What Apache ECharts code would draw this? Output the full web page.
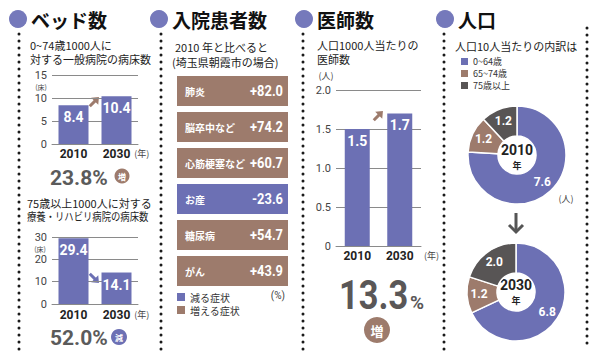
<!DOCTYPE html>
<html><head><meta charset="utf-8">
<script src="https://cdn.jsdelivr.net/npm/echarts@6/dist/echarts.min.js"></script>
<style>html,body{margin:0;padding:0;background:#fff}#c{width:600px;height:358px}</style>
</head><body><div id="c"></div>
<script>
// ---- data ----
const years = ['2010', '2030'];
const bedGeneral = [8.4, 10.4];          // 0~74歳1000人に対する一般病院の病床数
const bedGeneralTicks = [0, 15, 5];      // min, max, interval
const bedRehab = [29.4, 14.1];           // 75歳以上1000人に対する療養・リハビリ病院の病床数
const bedRehabTicks = [0, 30, 10];
const doctors = [1.5, 1.7];              // 人口1000人当たりの医師数
const doctorTicks = [0, 2, 0.5];
const diseases = ['肺炎', '脳卒中など', '心筋梗塞など', 'お産', '糖尿病', 'がん'];
const diseaseChange = [82.0, 74.2, 60.7, -23.6, 54.7, 43.9];
const ageGroups = ['0~64歳', '65~74歳', '75歳以上'];
const pop2010 = [7.6, 1.2, 1.2];
const pop2030 = [6.8, 1.2, 2.0];
const bedGeneralRate = '23.8%';
const bedRehabRate = '52.0%';
const doctorRate = '13.3';

// ---- style ----
const BLUE = '#6c70b4', BROWN = '#9d7b6c', DARK = '#585555', TBLUE = '#7579bb';
const JP = '"Noto Sans CJK JP", sans-serif';
const NUM = 'Roboto, "Noto Sans", sans-serif';
const AGE_COLORS = [BLUE, BROWN, DARK];

const chart = echarts.init(document.getElementById('c'), null, {renderer: 'svg'});

function catAxis(gi, margin, nameGap) {
  return {
    type: 'category', gridIndex: gi, data: years,
    axisLine: {show: true, lineStyle: {color: '#8a8a8a', width: 1}},
    axisTick: {show: false},
    axisLabel: {color: '#222', fontWeight: 'bold', fontSize: 12, fontFamily: NUM, margin: margin},
    name: '(年)', nameLocation: 'end', nameGap: nameGap,
    nameTextStyle: {color: '#444', fontSize: 9, fontFamily: JP, verticalAlign: 'top', padding: [margin + 1, 0, 0, 0]}
  };
}
function valAxis(gi, t, fmt) {
  return {
    type: 'value', gridIndex: gi, min: t[0], max: t[1], interval: t[2],
    axisLine: {show: false}, axisTick: {show: false},
    axisLabel: {color: '#444', fontSize: 11, fontFamily: NUM, margin: 5, formatter: fmt},
    splitLine: {lineStyle: {color: '#8a8a8a', width: 1}}
  };
}
function barSeries(gi, data, w) {
  return {
    type: 'bar', xAxisIndex: gi, yAxisIndex: gi, data: data, barWidth: w,
    itemStyle: {color: BLUE},
    label: {show: true, position: 'insideTop', distance: 5, color: '#fff', fontWeight: 'bold',
      fontSize: 14, fontFamily: NUM, formatter: p => p.value.toFixed(1)},
    silent: true
  };
}
function boxSeries(name, color, keep) {
  return {
    type: 'custom', name: name, xAxisIndex: 3, yAxisIndex: 3, itemStyle: {color: color},
    data: diseases.map((d, i) => [diseaseChange[i], i]).filter(p => keep(p[0])),
    encode: {x: 0, y: 1},
    renderItem: function (params, api) {
      const v = api.value(0), idx = api.value(1);
      const c = api.coord([0, idx]);
      const band = api.size([0, 1])[1];
      const h = band * 0.83;
      const cs = params.coordSys;
      return {type: 'group', children: [
        {type: 'rect', shape: {x: cs.x, y: c[1] - h / 2, width: cs.width, height: h}, style: {fill: api.visual('color')}},
        {type: 'text', x: cs.x + 8, y: c[1], style: {text: diseases[idx], fill: '#fff',
          font: 'bold 10px ' + JP, align: 'left', verticalAlign: 'middle'}},
        {type: 'text', x: cs.x + cs.width - 5, y: c[1], scaleX: 0.92, style: {text: (v > 0 ? '+' : '') + v.toFixed(1), fill: '#fff',
          font: 'bold 14px ' + NUM, align: 'right', verticalAlign: 'middle'}}
      ]};
    }
  };
}
function pieSeries(center, vals) {
  return {
    type: 'pie', center: center, radius: [19, 49], startAngle: 90, clockwise: true, silent: true,
    data: ageGroups.map((n, i) => ({name: n, value: vals[i], itemStyle: {color: AGE_COLORS[i]}})),
    itemStyle: {borderColor: '#fff', borderWidth: 1.5},
    label: {show: true, position: 'inside', color: '#fff', fontWeight: 'bold', fontSize: 12, fontFamily: NUM,
      formatter: p => p.value.toFixed(1)},
    labelLine: {show: false}
  };
}

// ---- decorations ----
const g = [];
function dots(x, y1, y2) {
  g.push({type: 'line', shape: {x1: x, y1: y1, x2: x, y2: y2}, silent: true,
    style: {stroke: '#1a1a1a', lineWidth: 3, lineDash: [0, 7], lineCap: 'round'}});
}
function txt(x, y, text, font, fill, align, sx) {
  g.push({type: 'text', x: x, y: y, scaleX: sx || 1, silent: true,
    style: {text: text, font: font, fill: fill || '#222', align: align || 'left', verticalAlign: 'middle'}});
}
function header(cx, text) {
  g.push({type: 'circle', shape: {cx: cx, cy: 19, r: 9}, style: {fill: TBLUE}, silent: true});
  txt(cx + 13, 19, text, 'bold 19px ' + JP, '#111');
}
function badge(cx, cy, r, ch, color, fs) {
  g.push({type: 'circle', shape: {cx: cx, cy: cy, r: r}, style: {fill: color}, silent: true});
  g.push({type: 'text', x: cx, y: cy, silent: true, style: {text: ch, font: 'bold ' + fs + 'px ' + JP, fill: '#fff', align: 'center', verticalAlign: 'middle'}});
}
function arrow(cx, cy, rot, color) {
  g.push({type: 'group', x: cx, y: cy, rotation: rot, silent: true, children: [
    {type: 'line', shape: {x1: -6, y1: 0, x2: 3, y2: 0}, style: {stroke: color, lineWidth: 3}},
    {type: 'polygon', shape: {points: [[7, 0], [1, -5], [1, 5]]}, style: {fill: color}}
  ]});
}

dots(19, 34, 350); dots(161, 34, 350); dots(303, 34, 350); dots(444, 34, 350); dots(587, 28, 350);
header(18, 'ベッド数'); header(159, '入院患者数'); header(304, '医師数'); header(445, '人口');

// panel 1
txt(30, 45, '0~74歳1000人に', '11px ' + JP);
txt(30, 59, '対する一般病院の病床数', '11px ' + JP);
txt(41, 87, '(床)', '7px ' + JP, '#444', 'center');
arrow(94, 102, Math.PI / 4, BROWN);
txt(50, 178, bedGeneralRate, 'bold 21px ' + NUM, '#5b5b5b');
badge(122, 176, 7.5, '増', BROWN, 8);
txt(27, 203, '75歳以上1000人に対する', '11px ' + JP);
txt(27, 216, '療養・リハビリ病院の病床数', '11px ' + JP, '#222', 'left', 0.85);
txt(40, 249, '(床)', '7px ' + JP, '#444', 'center');
arrow(94, 278, -Math.PI / 4, BLUE);
txt(50, 338, bedRehabRate, 'bold 21px ' + NUM, '#5b5b5b');
badge(119, 337, 8, '減', BLUE, 8);

// panel 2
txt(175, 47, '2010 年と比べると', '11px ' + JP);
txt(172, 62, '(埼玉県朝霞市の場合)', '11px ' + JP);
txt(285, 295, '(%)', '10px ' + NUM, '#444', 'right');

// panel 3
txt(317, 45, '人口1000人当たりの', '11px ' + JP);
txt(317, 59, '医師数', '11px ' + JP);
txt(326, 75, '(人)', '9px ' + JP, '#444', 'center');
arrow(378, 116, Math.PI / 4, BROWN);
txt(339, 295, doctorRate, 'bold 40px ' + NUM, '#5a5757', 'left', 0.86);
txt(410, 302, '%', 'bold 19px ' + NUM, '#5a5757');
badge(377, 330, 13, '増', BROWN, 13);

// panel 4
txt(455, 46, '人口10人当たりの内訳は', '11px ' + JP);
txt(517, 150, '2010', 'bold 14px ' + NUM, '#222', 'center');
txt(517, 165, '年', 'bold 9px ' + JP, '#222', 'center');
txt(516, 285, '2030', 'bold 14px ' + NUM, '#222', 'center');
txt(516, 300, '年', 'bold 9px ' + JP, '#222', 'center');
txt(566, 198, '(人)', '9px ' + JP, '#444', 'center');
g.push({type: 'polyline', silent: true, shape: {points: [[516, 213], [516, 232]]}, style: {stroke: '#555', lineWidth: 3, fill: null}});
g.push({type: 'polyline', silent: true, shape: {points: [[509, 225], [516, 232], [523, 225]]}, style: {stroke: '#555', lineWidth: 3, fill: null}});

const option = {
  animation: false,
  backgroundColor: '#fff',
  grid: [
    {left: 52, top: 75, width: 86, height: 69},
    {left: 52, top: 237, width: 86, height: 67},
    {left: 336, top: 90, width: 85, height: 156},
    {left: 177, top: 73, width: 111, height: 216}
  ],
  xAxis: [
    catAxis(0, 4, -8),
    catAxis(1, 5, -8),
    catAxis(2, 4, 3),
    {type: 'value', gridIndex: 3, min: -100, max: 100, show: false}
  ],
  yAxis: [
    valAxis(0, bedGeneralTicks),
    valAxis(1, bedRehabTicks),
    valAxis(2, doctorTicks, v => v === 0 ? '0' : v.toFixed(1)),
    {type: 'category', gridIndex: 3, data: diseases, inverse: true, show: false}
  ],
  legend: [
    {data: ['減る症状', '増える症状'], left: 177, top: 292, orient: 'vertical', icon: 'rect',
      itemWidth: 8, itemHeight: 8, itemGap: 3, itemStyle: {borderWidth: 0}, selectedMode: false,
      textStyle: {fontSize: 10, color: '#333', fontFamily: JP, lineHeight: 10, padding: 0}, padding: 0},
    {data: ageGroups, left: 461, top: 57, orient: 'vertical', icon: 'rect',
      itemWidth: 7, itemHeight: 7, itemGap: 3, itemStyle: {borderWidth: 0}, selectedMode: false,
      textStyle: {fontSize: 9, color: '#333', fontFamily: JP, lineHeight: 9, padding: 0}, padding: 0}
  ],
  series: [
    barSeries(0, bedGeneral, 30),
    barSeries(1, bedRehab, 30),
    barSeries(2, doctors, 25),
    boxSeries('減る症状', BLUE, v => v < 0),
    boxSeries('増える症状', BROWN, v => v >= 0),
    pieSeries([517, 155], pop2010),
    pieSeries([516, 292], pop2030)
  ],
  graphic: g
};
chart.setOption(option);
</script>
</body></html>
